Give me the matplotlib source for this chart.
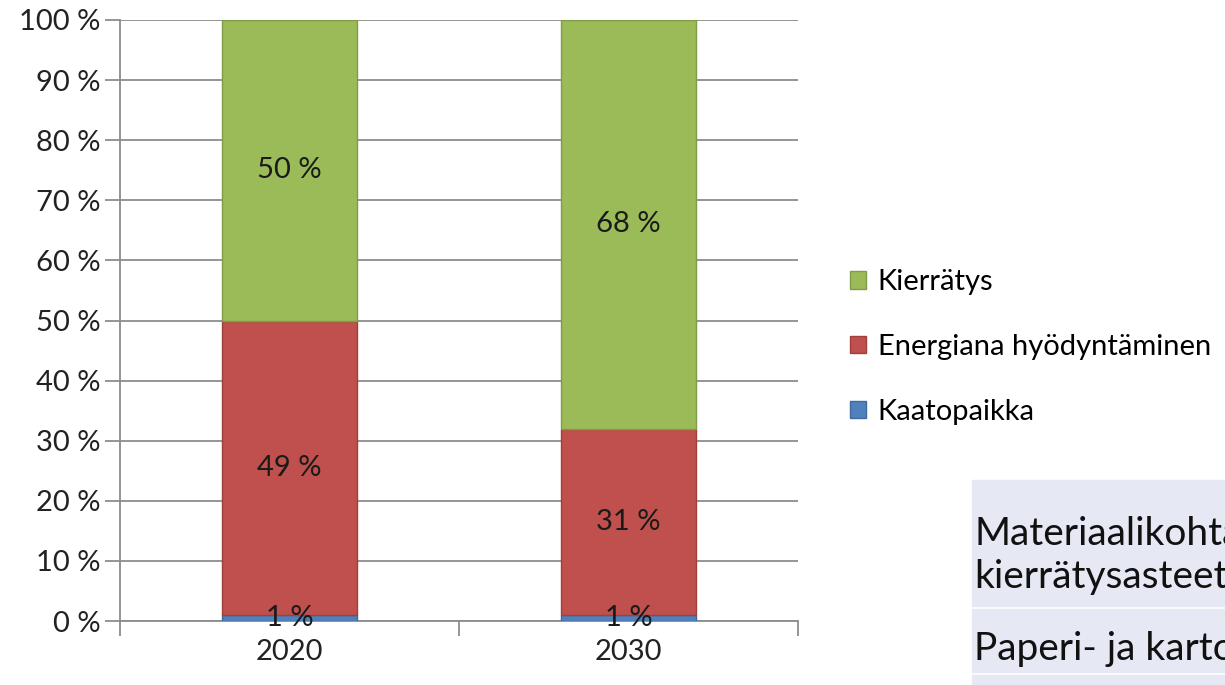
import numpy as np
import matplotlib
import matplotlib.pyplot as plt
from matplotlib.patches import Rectangle

matplotlib.use('Agg')
plt.rcParams['font.family'] = ['Lato', 'DejaVu Sans']

# data
years = ['2020', '2030']
series = ['Kaatopaikka', 'Energiana hyödyntäminen', 'Kierrätys']
kaatopaikka = [1, 1]
energia = [49, 31]
kierratys = [50, 68]
y_ticks = list(range(0, 101, 10))
table_lines = ['Materiaalikohtaiset', 'kierrätysasteet', 'Paperi- ja kartonki']

colors = ['#4F81BD', '#C0504D', '#9BBB59']
edges = ['#3F6A9E', '#A0403D', '#7F9D46']
grid_c = '#8C8C8C'
fs = 21

fig = plt.figure(figsize=(12.25, 6.85), dpi=100)
ax = fig.add_axes([120 / 1225, 1 - 621 / 685, 678 / 1225, 601 / 685])

x = np.arange(len(years))
bottom = np.zeros(len(years))
handles = []
for vals, name, c, ec in zip([kaatopaikka, energia, kierratys], series, colors, edges):
    vals = np.array(vals, dtype=float)
    b = ax.bar(x, vals, bottom=bottom, width=0.4, color=c, edgecolor=ec,
               linewidth=1, label=name, zorder=3)
    handles.append(b)
    for xi, v, b0 in zip(x, vals, bottom):
        ax.text(xi, b0 + v / 2, '%d %%' % v, ha='center', va='center',
                fontsize=fs, color='#1a1a1a', zorder=4)
    bottom += vals

ax.set_xlim(-0.5, 1.5)
ax.set_ylim(0, 100)
ax.set_yticks(y_ticks)
ax.set_yticklabels(['%d %%' % v for v in y_ticks], fontsize=fs, color='#222222')
ax.set_xticks(x)
ax.set_xticklabels(years, fontsize=fs, color='#222222')
ax.set_xticks([-0.5, 0.5, 1.5], minor=True)
ax.tick_params(axis='x', which='major', length=0, pad=13)
ax.tick_params(axis='x', which='minor', length=11, width=1.3, color=grid_c)
ax.tick_params(axis='y', length=11, width=1.3, color=grid_c, pad=3)
ax.grid(axis='y', color=grid_c, linewidth=1.3, zorder=0)
for s in ['top', 'right']:
    ax.spines[s].set_visible(False)
for s in ['left', 'bottom']:
    ax.spines[s].set_color(grid_c)
    ax.spines[s].set_linewidth(1.3)

leg = fig.legend(handles[::-1], series[::-1], loc='center left',
                 bbox_to_anchor=(850 / 1225, 1 - 347 / 685), frameon=False,
                 fontsize=fs, handlelength=0.55, handleheight=0.55,
                 handletextpad=0.4, labelspacing=1.33, borderpad=0,
                 borderaxespad=0)

# table fragment at bottom right (cut off by the figure edge, as in the source)
for y0, h in [(480, 126), (609, 63), (675, 10)]:
    fig.patches.append(Rectangle((972 / 1225, 1 - (y0 + h) / 685), 300 / 1225, h / 685,
                                 transform=fig.transFigure, color='#E6E8F3', zorder=0))
for line, yb in zip(table_lines, [545, 588, 660]):
    fig.text(974 / 1225, 1 - yb / 685, line, fontsize=28, va='baseline',
             ha='left', color='#111111')

fig.savefig('out.png', dpi=100)
